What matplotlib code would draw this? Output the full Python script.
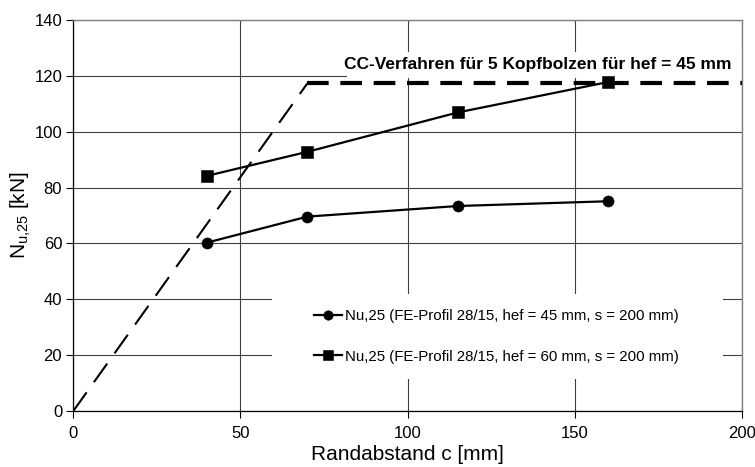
import matplotlib
matplotlib.use("Agg")
import matplotlib.pyplot as plt
from matplotlib.patches import Rectangle

plt.rcParams['font.family'] = ['Liberation Sans', 'DejaVu Sans']
plt.rcParams['mathtext.fontset'] = 'custom'
plt.rcParams['mathtext.rm'] = 'Liberation Sans'
plt.rcParams['mathtext.it'] = 'Liberation Sans:italic'
plt.rcParams['mathtext.bf'] = 'Liberation Sans:bold'

# Edge distance c [mm] and ultimate load Nu,25 [kN]
c_vals = [40, 70, 115, 160]
nu_hef45 = [60.3, 69.6, 73.4, 75.1]
nu_hef60 = [84.2, 92.8, 106.9, 117.8]

# CC method limit for 5 headed studs, hef = 45 mm
cc_rise_x = [0, 70]
cc_rise_y = [0, 117.3]
cc_flat_x = [70, 200]
cc_flat_y = [117.3, 117.3]

xticks = [0, 50, 100, 150, 200]
yticks = [0, 20, 40, 60, 80, 100, 120, 140]

label45 = "Nu,25 (FE-Profil 28/15, hef = 45 mm, s = 200 mm)"
label60 = "Nu,25 (FE-Profil 28/15, hef = 60 mm, s = 200 mm)"
cc_text = "CC-Verfahren für 5 Kopfbolzen für hef = 45 mm"

fig = plt.figure(figsize=(7.55, 4.67), dpi=100)
ax = fig.add_axes([0.0971, 0.1199, 0.9828 - 0.0971, 0.9572 - 0.1199])

ax.set_xlim(0, 200)
ax.set_ylim(0, 140)
ax.set_xticks(xticks)
ax.set_yticks(yticks)
ax.tick_params(axis='both', direction='out', length=5, width=0.8,
               labelsize=12, colors='black', pad=3)
ax.tick_params(axis='x', pad=6)

ax.set_axisbelow(True)
ax.grid(True, color='#404040', linewidth=0.8)

for side in ('left', 'bottom'):
    ax.spines[side].set_color('black')
    ax.spines[side].set_linewidth(0.9)
for side in ('top', 'right'):
    ax.spines[side].set_color('#808080')
    ax.spines[side].set_linewidth(1.0)

# White boxes behind the annotation and the legend
ax.add_patch(Rectangle((82, 119.3), 118, 9.3, facecolor='white',
                       edgecolor='none', zorder=1))
ax.add_patch(Rectangle((59.3, 11.5), 135, 30.5, facecolor='white',
                       edgecolor='none', zorder=1))

# CC method limit lines
ax.plot(cc_rise_x, cc_rise_y, color='black', linewidth=1.5,
        dashes=(11, 6), zorder=3)
ax.plot(cc_flat_x, cc_flat_y, color='black', linewidth=3,
        dashes=(5.2, 2.8), zorder=3, clip_on=False)

l45, = ax.plot(c_vals, nu_hef45, color='black', linewidth=1.6,
               marker='o', markersize=8, markeredgewidth=0.4, zorder=4)
l60, = ax.plot(c_vals, nu_hef60, color='black', linewidth=1.6,
               marker='s', markersize=8, markeredgewidth=0.4, zorder=4)

ax.text(197, 123.9, cc_text, ha='right', va='center', fontsize=12.5,
        fontweight='bold', zorder=5)

leg = ax.legend([l45, l60], [label45, label60], loc='center left',
                bbox_to_anchor=(0.36, 0.1905), frameon=False,
                fontsize=10.8, handlelength=1.85, handletextpad=0.2,
                labelspacing=1.75, borderaxespad=0, borderpad=0,
                markerscale=0.85)
leg.set_zorder(6)

ax.set_xlabel("Randabstand c [mm]", fontsize=15, labelpad=3)
ax.set_ylabel(r"N$_{\mathregular{u{,}25}}$ [kN]", fontsize=15, labelpad=1)

fig.savefig("out.png", dpi=100)
